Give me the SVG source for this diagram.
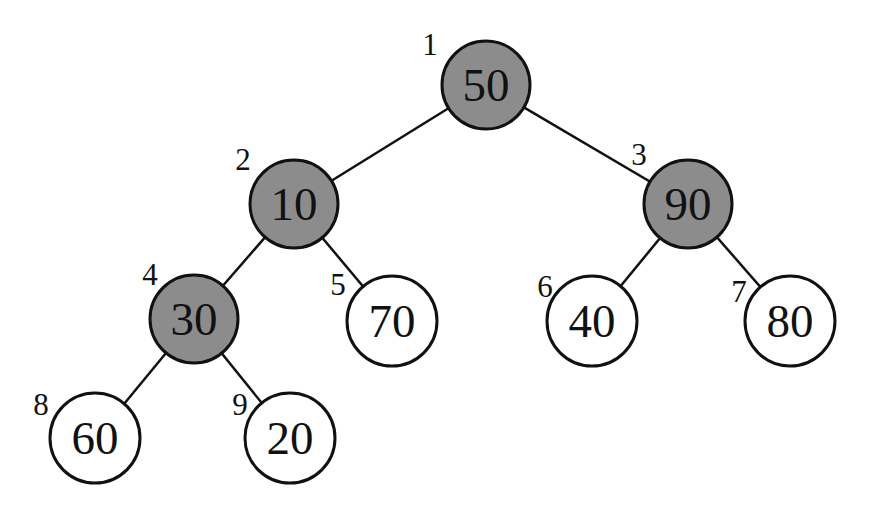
<svg xmlns="http://www.w3.org/2000/svg" width="886" height="516" viewBox="0 0 886 516">
<style>
.e{stroke:#111;stroke-width:2.5;fill:none}
.c{stroke:#111;stroke-width:3}
.g{fill:#8c8c8c}
.w{fill:#fff}
.t{font-family:"Liberation Serif","Times New Roman",serif;font-size:47px;fill:#111;text-anchor:middle}
.l{font-family:"Liberation Serif","Times New Roman",serif;font-size:31px;fill:#111;text-anchor:middle}
</style>
<rect width="886" height="516" fill="#fff"/>
<g id="edges">
<line class="e" x1="486" y1="85" x2="294" y2="204"/>
<line class="e" x1="486" y1="85" x2="688" y2="204"/>
<line class="e" x1="294" y1="204" x2="194" y2="319"/>
<line class="e" x1="294" y1="204" x2="392" y2="321"/>
<line class="e" x1="688" y1="204" x2="592" y2="321"/>
<line class="e" x1="688" y1="204" x2="790" y2="321"/>
<line class="e" x1="194" y1="319" x2="96" y2="438"/>
<line class="e" x1="194" y1="319" x2="290" y2="438"/>
</g>
<g id="n1"><circle class="c g" cx="486" cy="85" r="44"/><text class="t" x="486" y="101">50</text><text class="l" x="430" y="55">1</text></g>
<g id="n2"><circle class="c g" cx="294" cy="204" r="44"/><text class="t" x="294" y="220">10</text><text class="l" x="243" y="170">2</text></g>
<g id="n3"><circle class="c g" cx="688" cy="204" r="44"/><text class="t" x="688" y="220">90</text><text class="l" x="639" y="165">3</text></g>
<g id="n4"><circle class="c g" cx="194" cy="319" r="44"/><text class="t" x="194" y="335">30</text><text class="l" x="150" y="285">4</text></g>
<g id="n5"><circle class="c w" cx="392" cy="321" r="45"/><text class="t" x="392" y="337">70</text><text class="l" x="338" y="295">5</text></g>
<g id="n6"><circle class="c w" cx="592" cy="321" r="45"/><text class="t" x="592" y="337">40</text><text class="l" x="545" y="297">6</text></g>
<g id="n7"><circle class="c w" cx="790" cy="321" r="45"/><text class="t" x="790" y="337">80</text><text class="l" x="739" y="302">7</text></g>
<g id="n8"><circle class="c w" cx="95" cy="438" r="45"/><text class="t" x="95" y="454">60</text><text class="l" x="41" y="415">8</text></g>
<g id="n9"><circle class="c w" cx="290" cy="438" r="45"/><text class="t" x="290" y="454">20</text><text class="l" x="240" y="415">9</text></g>
</svg>
